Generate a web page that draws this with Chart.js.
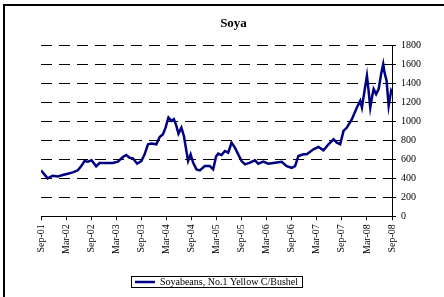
<!DOCTYPE html>
<html>
<head>
<meta charset="utf-8">
<script src="https://cdn.jsdelivr.net/npm/chart.js@4/dist/chart.umd.min.js"></script>
<style>
  html, body { margin: 0; padding: 0; background: #fff; overflow: hidden; }
</style>
</head>
<body>
<canvas id="soyaChart" width="444" height="297"></canvas>
<script>
// months after Sep-01
const months = [0, 0.8, 1.6, 2.8, 4.0, 5.2, 6.4, 7.6, 8.8, 9.6, 10.4, 11.2, 12.1, 13.2, 14.0,
  15.6, 17.2, 18.4, 19.6, 20.4, 21.2, 22.0, 23.0, 24.0, 24.8, 25.6, 26.4, 27.6, 28.4, 29.2,
  29.8, 30.5, 31.2, 31.8, 32.4, 32.9, 33.6, 34.2, 34.8, 35.2, 35.8, 36.4, 37.2, 38.0, 39.2,
  40.4, 41.2, 41.9, 42.4, 43.2, 44.0, 44.8, 45.6, 46.4, 47.2, 48.0, 48.8, 50.0, 51.2, 52.0,
  53.2, 54.4, 56.0, 57.6, 58.8, 60.0, 60.8, 61.6, 62.8, 63.6, 65.2, 66.4, 67.6, 68.8, 70.0,
  70.8, 71.6, 72.4, 73.2, 74.4, 75.6, 76.4, 76.8, 77.3, 78.0, 78.4, 78.8, 79.2, 79.6, 80.2,
  80.8, 81.4, 81.9, 82.2, 82.7, 83.2, 83.8, 84.0];
const soyabeans = [484, 441, 399, 427, 420, 434, 448, 462, 484, 526, 582, 575, 590, 526, 561,
  561, 561, 575, 625, 646, 617, 611, 554, 582, 653, 759, 766, 759, 836, 865,
  935, 1041, 1006, 1024, 953, 871, 935, 847, 688, 582, 653, 565, 494, 484, 529,
  529, 494, 630, 660, 645, 688, 670, 776, 723, 653, 582, 547, 565, 590, 554,
  575, 554, 565, 575, 529, 511, 529, 635, 653, 653, 706, 730, 695, 759, 812,
  776, 759, 900, 935, 1024, 1147, 1218, 1147, 1288, 1482, 1324, 1147, 1253, 1341, 1288,
  1341, 1500, 1606, 1518, 1429, 1165, 1324, 1306];
const tickLabels = ['Sep-01', 'Mar-02', 'Sep-02', 'Mar-03', 'Sep-03', 'Mar-04', 'Sep-04', 'Mar-05',
  'Sep-05', 'Mar-06', 'Sep-06', 'Mar-07', 'Sep-07', 'Mar-08', 'Sep-08'];

const serif = 'Liberation Serif';

// outer frame (only top and left edges are visible in the picture) + box round the legend
const frameAndLegendBox = {
  id: 'frameAndLegendBox',
  afterDraw(chart) {
    const ctx = chart.ctx;
    ctx.save();
    ctx.strokeStyle = '#000';
    ctx.lineWidth = 2;
    ctx.beginPath();
    ctx.moveTo(4, chart.height);
    ctx.lineTo(4, 5);
    ctx.lineTo(chart.width, 5);
    ctx.stroke();
    const lg = chart.legend;
    if (lg && lg.legendHitBoxes && lg.legendHitBoxes.length) {
      const hb = lg.legendHitBoxes[0];
      ctx.lineWidth = 1;
      ctx.strokeRect(Math.round(hb.left - 4) + 0.5, Math.round(hb.top - 1) + 0.5,
        Math.round(hb.width + 8), Math.round(hb.height + 1));
    }
    ctx.restore();
  }
};

new Chart(document.getElementById('soyaChart').getContext('2d'), {
  type: 'line',
  data: {
    datasets: [{
      label: 'Soyabeans, No.1 Yellow C/Bushel',
      data: months.map((m, i) => ({ x: m, y: soyabeans[i] })),
      borderColor: '#000080',
      backgroundColor: '#000080',
      borderWidth: 2.5,
      pointRadius: 0,
      tension: 0
    }]
  },
  options: {
    responsive: false,
    animation: false,
    layout: { padding: { left: 41, right: 18, top: 0, bottom: 0 } },
    plugins: {
      title: {
        display: true,
        text: 'Soya',
        color: '#000',
        font: { family: serif, size: 13, weight: 'bold' },
        padding: { top: 16, bottom: 14 }
      },
      legend: {
        position: 'bottom',
        fullSize: false,
        labels: {
          color: '#000',
          font: { family: serif, size: 10 },
          boxWidth: 20,
          boxHeight: 0,
          padding: 19
        }
      },
      tooltip: { enabled: false }
    },
    scales: {
      x: {
        type: 'linear',
        min: 0,
        max: 84,
        grid: { drawOnChartArea: false, drawTicks: true, tickLength: 4, color: '#000' },
        border: { color: '#000', width: 1 },
        ticks: {
          stepSize: 6,
          autoSkip: false,
          minRotation: 90,
          maxRotation: 90,
          padding: 4,
          color: '#000',
          font: { family: serif, size: 10 },
          callback: (v) => tickLabels[Math.round(v / 6)]
        }
      },
      y: {
        position: 'right',
        min: 0,
        max: 1800,
        grid: { color: '#000', tickLength: 4 },
        border: { color: '#000', width: 1, dash: [11, 7] },
        ticks: {
          stepSize: 200,
          padding: 5,
          color: '#000',
          font: { family: serif, size: 10 },
          callback: (v) => String(v)
        }
      }
    }
  },
  plugins: [frameAndLegendBox]
});
</script>
</body>
</html>
